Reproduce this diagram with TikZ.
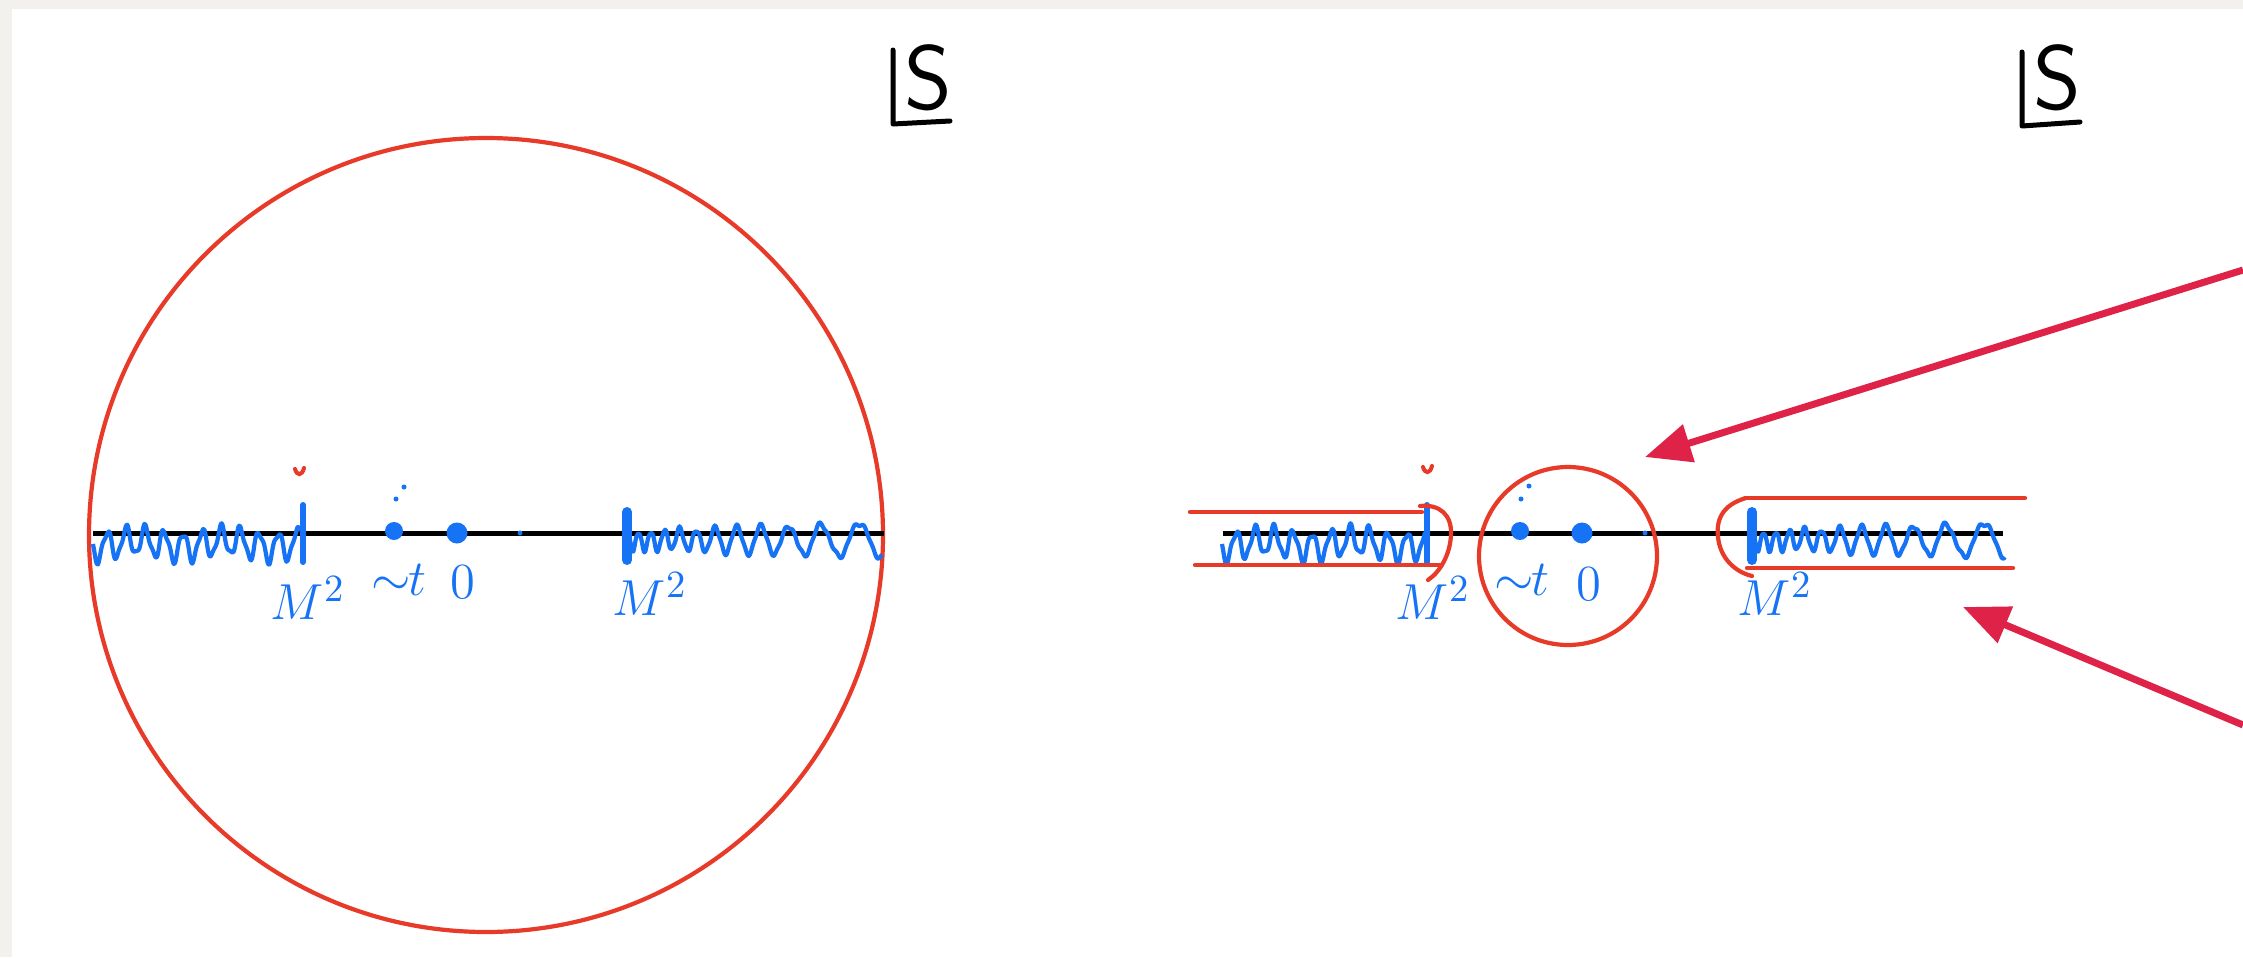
\documentclass[tikz,border=0pt]{standalone}
\usetikzlibrary{arrows.meta}
\definecolor{bgray}{RGB}{242,241,238}
\definecolor{cred}{RGB}{232,58,40}
\definecolor{carrow}{RGB}{222,34,72}
\definecolor{cblue}{RGB}{22,115,245}
\begin{document}
\begin{tikzpicture}[x=0.1mm,y=-0.1mm,
  axis/.style={black,line width=0.5mm},
  redc/.style={cred,line width=0.42mm},
  wig/.style={cblue,line width=0.42mm,line join=round},
  tick/.style={cblue,line width=0.6mm,line cap=round},
  thicktick/.style={cblue,line width=1.0mm,line cap=round},
  bigdot/.style={circle,fill=cblue,inner sep=0,minimum size=2.1mm},
  middot/.style={circle,fill=cblue,inner sep=0,minimum size=1.8mm},
  tinydot/.style={circle,fill=cblue,inner sep=0,minimum size=0.5mm},
  lbl/.style={text=cblue,font=\fontsize{15}{17}\selectfont,inner sep=0},
  corner/.style={black,line width=0.5mm,line cap=round,line join=round},
  cornerS/.style={font=\fontsize{26}{28}\selectfont\sffamily,inner sep=0},
  arr/.style={carrow,line width=0.7mm,-{Triangle[length=4.6mm,width=3.8mm]}},
  redmark/.style={cred,line width=0.4mm,line cap=round}]
\useasboundingbox (0,0) rectangle (2243,957);
\fill[bgray] (0,0) rectangle (2243,957);
\fill[white] (12,9) rectangle (2243,957);

% ---------------- left panel ----------------
\draw[cred,line width=0.42mm] (486,535) circle[radius=39.7mm];
\draw[axis] (93,533) -- (884,533);
\draw[wig] plot[variable=\t,domain=0:207,samples=170,smooth]
  ({93+\t},{544+(14+7*sin(\t*23))*sin(\t/19*360)});
\draw[wig] plot[variable=\t,domain=0:252,samples=230,smooth]
  ({630+\t},{540+(9+3*sin(\t*31)+\t*0.035)*sin(\t/(11+\t*0.045)*360)});
\draw[tick] (303,505) -- (303,562);
\draw[thicktick] (627,512) -- (627,560);
\draw[redmark] (295,469) .. controls (297,476) and (302,476) .. (304,468);
\node[middot] (mta) at (394,531) {};
\node[bigdot] (za) at (457,533) {};
\node[tinydot] (sa) at (520,533) {};
\node[tinydot] (da1) at (396,499) {};
\node[tinydot] (da2) at (404,487) {};
\node[lbl] (m2a) at (308,598) {$M^2$};
\node[lbl] (ta) at (399,580) {$\sim\!\!t$};
\node[lbl] (z0a) at (463,582) {$0$};
\node[lbl] (m2b) at (650,594) {$M^2$};
% corner label
\draw[corner] (893,50) -- (893,124) -- (950,121);
\node[cornerS] (sl) at (928,78) {S};

% ---------------- right panel ----------------
\draw[axis] (1223,533) -- (2003,533);
\draw[wig] plot[variable=\t,domain=0:203,samples=170,smooth]
  ({1222+\t},{544+(14+7*sin(\t*23))*sin(\t/19*360)});
\draw[wig] plot[variable=\t,domain=0:250,samples=230,smooth]
  ({1755+\t},{540+(9+3*sin(\t*31)+\t*0.035)*sin(\t/(11+\t*0.045)*360)});
\draw[tick] (1427,505) -- (1427,562);
\draw[thicktick] (1752,512) -- (1752,560);
\draw[redmark] (1423,467) .. controls (1425,474) and (1430,474) .. (1432,466);
\node[middot] (mtb) at (1520,531) {};
\node[bigdot] (zb) at (1582,533) {};
\node[tinydot] (sb) at (1645,533) {};
\node[tinydot] (db1) at (1521,499) {};
\node[tinydot] (db2) at (1529,486) {};
\node[lbl] (m2c) at (1433,598) {$M^2$};
\node[lbl] (tb) at (1522,580) {$\sim\!\!t$};
\node[lbl] (z0b) at (1589,584) {$0$};
\node[lbl] (m2d) at (1775,594) {$M^2$};
% small circle around -t and 0
\node[draw=cred,line width=0.42mm,circle,minimum size=17.8mm,inner sep=0] (sc) at (1568,556) {};
% left keyhole piece
\draw[redc,line cap=round] (1190,512) -- (1422,512);
\draw[redc,line cap=round] (1195,565) -- (1440,565);
\draw[redc,line cap=round] (1420,506) .. controls (1440,504) and (1452,515) .. (1451,535)
  .. controls (1450,555) and (1440,572) .. (1428,580);
% right keyhole piece
\draw[redc,line cap=round] (1745,498) -- (2025,498);
\draw[redc,line cap=round] (1747,568) -- (2013,568);
\draw[redc,line cap=round] (1746,498) .. controls (1722,505) and (1716,520) .. (1718,537)
  .. controls (1720,558) and (1735,572) .. (1752,576);
% corner label
\draw[corner] (2022,52) -- (2022,126) -- (2080,122);
\node[cornerS] (sr) at (2057,78) {S};

% arrows
\coordinate (a1s) at (2243,270);
\coordinate (a1e) at (1645,457);
\coordinate (a2s) at (2243,725);
\coordinate (a2e) at (1963,607);
\draw[arr] (a1s) -- (a1e);
\draw[arr] (a2s) -- (a2e);
\end{tikzpicture}
\end{document}
